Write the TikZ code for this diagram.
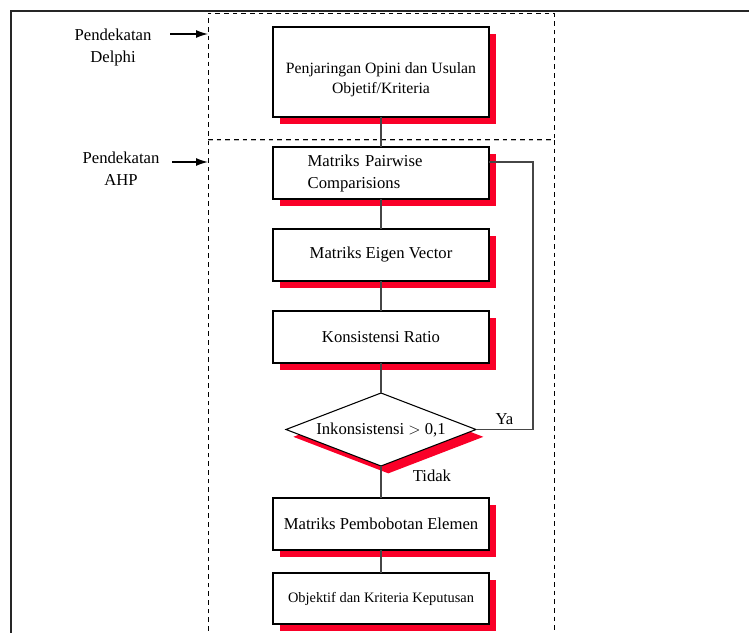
\documentclass[tikz,border=0pt]{standalone}
\usepackage{fontspec}
\setmainfont{Liberation Serif}
\usetikzlibrary{arrows.meta,positioning,shapes.geometric,shadows}
\definecolor{shadowred}{RGB}{250,0,40}
\definecolor{linkgray}{RGB}{70,70,70}

\begin{document}
\begin{tikzpicture}[x=0.75pt, y=-0.75pt, >={Latex[length=9pt,width=6pt]},
    font=\fontsize{12.5}{16.5}\selectfont, node distance=22.5pt,
    redshadow/.style={drop shadow={shadow xshift=5.5pt, shadow yshift=-5.5pt,
        fill=shadowred, opacity=1}},
    stepbox/.style={draw=black, line width=1.1pt, fill=white, outer sep=0pt,
        minimum width=162pt, minimum height=39pt, align=center, inner sep=3pt,
        redshadow},
    testbox/.style={shape=diamond, draw=black, line width=0.8pt, fill=white,
        aspect=2.6, minimum width=142.5pt, minimum height=54.75pt,
        inner sep=0pt, outer sep=0pt, redshadow},
    zone/.style={minimum width=259.5pt, inner sep=0pt, outer sep=0pt},
    zoneline/.style={dashed, dash pattern=on 3.5pt off 3pt, line width=0.7pt},
    link/.style={draw=linkgray, line width=1pt}]

  \useasboundingbox (0,0) rectangle (749,632);

  % frame
  \draw[line width=1.6pt, black!85] (11,650) -- (11,11) -- (760,11);

  % the two approaches
  \node[zone, draw=black, zoneline, minimum height=94.5pt] (delphi) at (381,76) {};
  \node[zone, minimum height=420pt] (ahp) at (381,420) {};
  \draw[zoneline] (ahp.south west) -- (ahp.north west);
  \draw[zoneline, gray!55] (ahp.north west) -- (ahp.north east);
  \draw[zoneline] (ahp.north east) -- (ahp.south east);

  \node[align=center] (lblDelphi) at (113,47) {Pendekatan\\Delphi};
  \node[align=center] (lblAHP) at (121,169) {Pendekatan\\AHP};
  \coordinate (tipDelphi) at (170,34);
  \coordinate (tipAHP) at (172,162);
  \draw[->, line width=1pt] (tipDelphi) -- (tipDelphi -| delphi.west);
  \draw[->, line width=1pt] (tipAHP) -- (tipAHP -| ahp.west);

  % flow
  \node[stepbox, minimum height=67.5pt, text height=35.5pt,
        font=\fontsize{11.8}{15}\selectfont] (opini) at (381,72)
        {Penjaringan Opini dan Usulan\\Objetif/Kriteria};
  \node[stepbox, below=of opini, align=left, text width=110pt, inner xsep=26pt]
        (pairwise) {Matriks Pairwise\\Comparisions};
  \node[stepbox, below=of pairwise] (eigen) {Matriks Eigen Vector};
  \node[stepbox, below=of eigen] (ratio) {Konsistensi Ratio};
  \node[testbox, below=of ratio] (cek) {Inkonsistensi $>$ 0,1};
  \node[stepbox, below=24pt of cek] (bobot) {Matriks Pembobotan Elemen};
  \node[stepbox, below=17.25pt of bobot, minimum height=38.25pt,
        font=\fontsize{10.8}{13}\selectfont] (hasil)
        {Objektif dan Kriteria Keputusan};

  \draw[link] (opini) -- (pairwise);
  \draw[link] (pairwise) -- (eigen);
  \draw[link] (eigen) -- (ratio);
  \draw[link] (ratio) -- (cek);
  \draw[link] (cek) -- node[pos=0.31, right=20pt] {Tidak} (bobot);
  \draw[link] (bobot) -- (hasil);
  \draw[link] (cek.east) -- ++(42.75pt,0) node[midway, above] {Ya}
        |- ([yshift=8.25pt]pairwise.east);

\end{tikzpicture}
\end{document}
